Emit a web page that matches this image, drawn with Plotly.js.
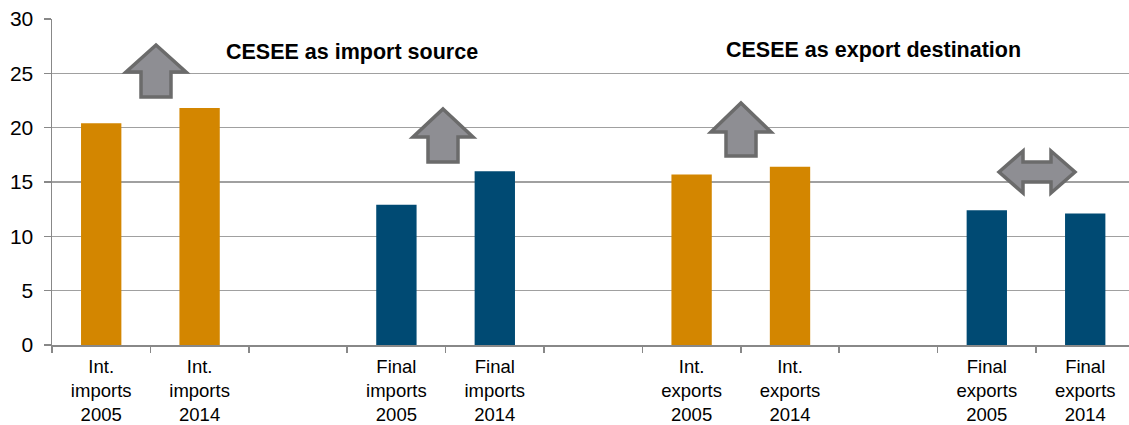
<!DOCTYPE html>
<html><head><meta charset="utf-8">
<script src="https://cdn.plot.ly/plotly-3.0.1.min.js"></script>
<style>html,body{margin:0;padding:0;background:#fff;}#chart{width:1129px;height:425px;}</style>
</head><body><div id="chart"></div>
<script>
const categories = ["Int.<br>imports<br>2005","Int.<br>imports<br>2014"," ","Final<br>imports<br>2005","Final<br>imports<br>2014","  ","Int.<br>exports<br>2005","Int.<br>exports<br>2014","   ","Final<br>exports<br>2005","Final<br>exports<br>2014"];
const values = [20.4, 21.8, null, 12.9, 16.0, null, 15.7, 16.4, null, 12.4, 12.1];
const groupType = ["int","int",null,"final","final",null,"int","int",null,"final","final"];
const yTicks = [0,5,10,15,20,25,30];
const titles = ["CESEE as import source","CESEE as export destination"];

const colorMap = {int:"#D38600", final:"#004A73"};
const colors = groupType.map(g => g ? colorMap[g] : "rgba(0,0,0,0)");

const L=52, R=1129, T=19, B=345;
function px(x){return ((x-L)/(R-L)).toFixed(5);}
function py(y){return ((B-y)/(B-T)).toFixed(5);}
function upArrow(cx, tip, headBase, headHalf, stemHalf, bottom){
  return `M${px(cx)},${py(tip)} L${px(cx+headHalf)},${py(headBase)} L${px(cx+stemHalf)},${py(headBase)} L${px(cx+stemHalf)},${py(bottom)} L${px(cx-stemHalf)},${py(bottom)} L${px(cx-stemHalf)},${py(headBase)} L${px(cx-headHalf)},${py(headBase)} Z`;
}
function dblArrow(cx, cy, tipHalf, innerHalf, headHalfH, shaftHalfH){
  return `M${px(cx-tipHalf)},${py(cy)} L${px(cx-innerHalf)},${py(cy-headHalfH)} L${px(cx-innerHalf)},${py(cy-shaftHalfH)} L${px(cx+innerHalf)},${py(cy-shaftHalfH)} L${px(cx+innerHalf)},${py(cy-headHalfH)} L${px(cx+tipHalf)},${py(cy)} L${px(cx+innerHalf)},${py(cy+headHalfH)} L${px(cx+innerHalf)},${py(cy+shaftHalfH)} L${px(cx-innerHalf)},${py(cy+shaftHalfH)} L${px(cx-innerHalf)},${py(cy+headHalfH)} Z`;
}
const arrowStyle = {type:"path", xref:"paper", yref:"paper", fillcolor:"#8E8E93", line:{color:"#6B6B6B", width:3.5}, layer:"above"};
const shapes = [
  Object.assign({path: upArrow(156, 45, 72, 30, 15, 97)}, arrowStyle),
  Object.assign({path: upArrow(443, 109, 137, 30, 15, 162)}, arrowStyle),
  Object.assign({path: upArrow(741, 103, 132, 30, 15, 156)}, arrowStyle),
  Object.assign({path: dblArrow(1037, 172, 38, 14, 21, 10)}, arrowStyle)
];

const trace = {type:"bar", x:categories, y:values, marker:{color:colors}, width:0.41, hoverinfo:"none"};

const layout = {
  width:1129, height:425,
  margin:{l:L, r:0, t:T, b:425-B, pad:0},
  paper_bgcolor:"#fff", plot_bgcolor:"#fff",
  showlegend:false,
  font:{family:"Liberation Sans, Arial, sans-serif", color:"#000"},
  xaxis:{type:"category", range:[-0.5, 10.445], tickson:"boundaries", ticks:"outside", ticklen:6, tickcolor:"#888", tickwidth:1.5,
         showline:true, linecolor:"#888", linewidth:1.5, showgrid:false, tickfont:{size:18.5, color:"#000"}, ticklabelstandoff:4, fixedrange:true, automargin:false},
  yaxis:{range:[0,30], tickvals:yTicks, ticks:"outside", ticklen:7, tickcolor:"#888", tickwidth:1.5, showline:true, linecolor:"#888", linewidth:1.5,
         showgrid:true, gridcolor:"#A0A0A0", gridwidth:1.5, zeroline:false, tickfont:{size:21, color:"#000"}, ticklabelstandoff:6, automargin:false, fixedrange:true},
  shapes: shapes,
  annotations:[
    {text:"<b>"+titles[0]+"</b>", xref:"paper", yref:"paper", x:Number(px(352)), y:Number(py(52)), showarrow:false, font:{size:21.5, color:"#000"}, xanchor:"center", yanchor:"middle"},
    {text:"<b>"+titles[1]+"</b>", xref:"paper", yref:"paper", x:Number(px(874)), y:Number(py(50)), showarrow:false, font:{size:21.5, color:"#000"}, xanchor:"center", yanchor:"middle"}
  ]
};
Plotly.newPlot("chart", [trace], layout, {displayModeBar:false, staticPlot:true});
</script></body></html>
